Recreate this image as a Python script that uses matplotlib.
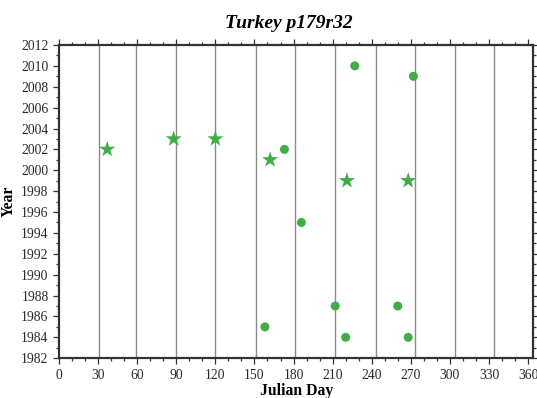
import matplotlib
matplotlib.use("Agg")
import matplotlib.pyplot as plt
from matplotlib.ticker import MultipleLocator

# acquisition dates: day of year and year
star_days = [37, 88, 120, 162, 221, 268]
star_years = [2002, 2003, 2003, 2001, 1999, 1999]
dot_days = [173, 227, 272, 186, 158, 212, 220, 260, 268]
dot_years = [2002, 2010, 2009, 1995, 1985, 1987, 1984, 1987, 1984]

# first day of each month (non-leap year)
month_starts = [31, 59, 90, 120, 151, 181, 212, 243, 273, 304, 334]

GREEN = "#3fae49"

plt.rcParams["font.family"] = ["Liberation Serif", "DejaVu Serif"]

fig = plt.figure(figsize=(5.37, 3.98), dpi=100)
ax = fig.add_axes([0.110, 0.100, 0.883, 0.787])

for d in month_starts:
    ax.axvline(d, color="#8c8c8c", linewidth=1.0, zorder=1)

ax.scatter(star_days, star_years, marker="*", s=150, color=GREEN,
           edgecolors="none", zorder=3)
ax.scatter(dot_days, dot_years, marker="o", s=42, color=GREEN,
           edgecolors="none", zorder=3)

ax.set_xlim(0, 364)
ax.set_ylim(1982, 2012)
ax.xaxis.set_major_locator(MultipleLocator(30))
ax.xaxis.set_minor_locator(MultipleLocator(10))
ax.yaxis.set_major_locator(MultipleLocator(2))
ax.yaxis.set_minor_locator(MultipleLocator(1))
ax.tick_params(which="both", direction="out", top=True, right=True,
               labelsize=9.8, color="#333333", labelcolor="#2a2a2a", width=0.9)
ax.tick_params(which="major", length=4)
ax.tick_params(which="minor", length=2.5)

for sp in ax.spines.values():
    sp.set_linewidth(1.6)
    sp.set_color("#333333")

ax.set_xlabel("Julian Day", fontsize=11.3, fontweight="bold", labelpad=1)
ax.set_ylabel("Year", fontsize=11.3, fontweight="bold", labelpad=3)
ax.set_title("Turkey p179r32", fontsize=14, fontweight="bold",
             fontstyle="italic", pad=12, x=0.485)

fig.savefig("out.png", dpi=100)
